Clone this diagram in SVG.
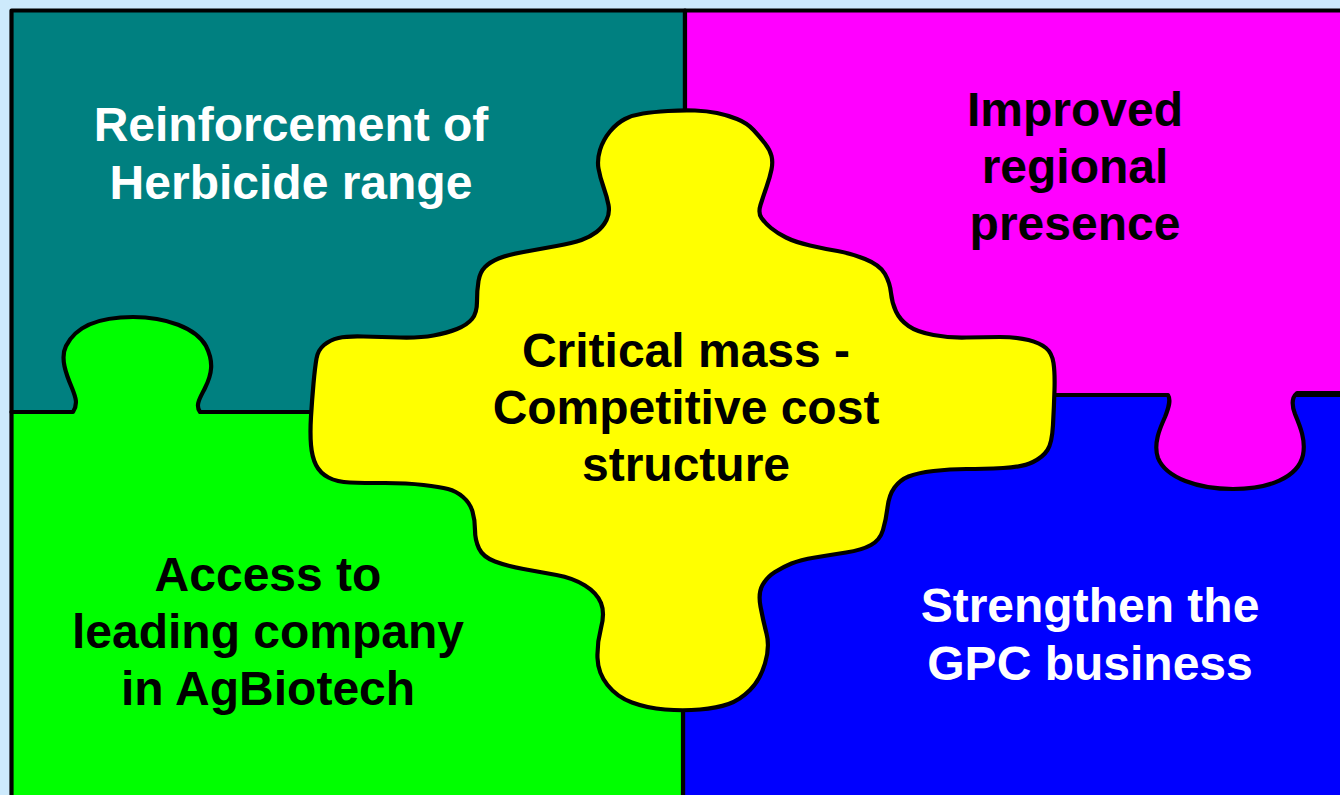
<svg xmlns="http://www.w3.org/2000/svg" width="1340" height="795" viewBox="0 0 1340 795">
  <style>
    .piece { stroke: #000; stroke-width: 4.2; stroke-linejoin: round; }
    .label { font-family: "Liberation Sans", Arial, sans-serif; font-weight: bold; font-size: 48px; text-anchor: middle; }
    .light { fill: #ffffff; }
    .dark { fill: #000000; }
  </style>

  <!-- page background -->
  <rect x="0" y="0" width="1340" height="795" fill="#cdeafc"/>

  <!-- upper-left piece -->
  <g id="herbicide">
    <path class="piece" fill="#008080" d="M11.5,10.5 H685 V412 H11.5 Z"/>
    <text class="label light" x="291" y="141">Reinforcement of</text>
    <text class="label light" x="291" y="199">Herbicide range</text>
  </g>

  <!-- lower-right piece -->
  <g id="gpc">
    <path class="piece" fill="#0000ff" d="M683,395 H1345 V800 H683 Z"/>
    <text class="label light" x="1090" y="622">Strengthen the</text>
    <text class="label light" x="1090" y="680">GPC business</text>
  </g>

  <!-- upper-right piece with knob reaching down -->
  <g id="regional">
    <path class="piece" fill="#ff00ff" d="M685,10.5 H1345 V393 H1297
      C1291,398 1292,406 1295,414 C1300,426 1306,440 1303,455
      C1298,478 1268,489 1233,489 C1198,489 1166,478 1158,458
      C1153,444 1160,428 1165,417 C1169,407 1171,400 1168,395 H685 Z"/>
    <text class="label dark" x="1075" y="126">Improved</text>
    <text class="label dark" x="1075" y="183">regional</text>
    <text class="label dark" x="1075" y="240">presence</text>
  </g>

  <!-- lower-left piece with knob reaching up -->
  <g id="agbiotech">
    <path class="piece" fill="#00ff00" d="M11.5,412 H73
      C78,404 76,398 72,388 C66,374 60,358 66,346
      C76,326 100,317 133,317 C166,317 196,328 206,346
      C214,362 212,374 205,388 C200,398 195,405 200,412
      H683 V800 H11.5 Z"/>
    <text class="label dark" x="268" y="591">Access to</text>
    <text class="label dark" x="268" y="648">leading company</text>
    <text class="label dark" x="268" y="705">in AgBiotech</text>
  </g>

  <!-- central cross-shaped piece -->
  <g id="critical-mass">
    <path class="piece" fill="#ffff00" d="M668,111 Q683,110 695,110.5 Q707,111 717,113 Q727,115 737,119 Q747,123 753.5,130 Q760,137 765,143.5 Q770,150 771.5,156 Q773,162 771.5,169.5 Q770,177 766.5,187 Q763,197 760.5,205 Q758,213 761.5,218 Q765,223 771,228 Q777,233 786,237.5 Q795,242 810,245.5 Q825,249 837.5,251 Q850,253 865,259 Q880,265 885,274 Q890,283 891,293 Q892,303 896,311.5 Q900,320 908.5,326 Q917,332 933.5,335 Q950,338 966.5,337.5 Q983,337 1000,337 Q1017,337 1028.5,340 Q1040,343 1046,348 Q1052,353 1053.5,363 Q1055,373 1054.5,390 Q1054,407 1053,425 Q1052,443 1047.5,450 Q1043,457 1033,462 Q1023,467 1003,468 Q983,469 966.5,469 Q950,469 933.5,471 Q917,473 908.5,476.5 Q900,480 894.5,487.5 Q889,495 887.5,507.5 Q886,520 883,530 Q880,540 871,545 Q862,550 846,552.5 Q830,555 815,557.5 Q800,560 791.5,563.5 Q783,567 775,572 Q767,577 762.5,585 Q758,593 760.5,606.5 Q763,620 766.5,633.5 Q770,647 765,663.5 Q760,680 750,690 Q740,700 728.5,704 Q717,708 700,709.5 Q683,711 665,709.5 Q647,708 632,702.5 Q617,697 607.5,685 Q598,673 597.5,658 Q597,643 601,628 Q605,613 601,603 Q597,593 585,585.5 Q573,578 556.5,575 Q540,572 523.5,569 Q507,566 495,561.5 Q483,557 479,548.5 Q475,540 475,530 Q475,520 472.5,511.5 Q470,503 463,497 Q456,491 448,489 Q440,487 423.5,485 Q407,483 385,483 Q363,483 350,482.5 Q337,482 328.5,477.5 Q320,473 316,465 Q312,457 311,445 Q310,433 311,416.5 Q312,400 313.5,383.5 Q315,367 316.5,358.5 Q318,350 324,345 Q330,340 338.5,338 Q347,336 363.5,336.5 Q380,337 400,337.5 Q420,338 433.5,335.5 Q447,333 457,329 Q467,325 472,319 Q477,313 477,301.5 Q477,290 478.5,281 Q480,272 485,267 Q490,262 498.5,258.5 Q507,255 523.5,252 Q540,249 556.5,246 Q573,243 581.5,240 Q590,237 596.5,232 Q603,227 606.5,220 Q610,213 608.5,205 Q607,197 603.5,187 Q600,177 598.5,168.5 Q597,160 600,150 Q603,140 610,131.5 Q617,123 625,119 Q633,115 643,113.5 Q653,112 668,111 Z"/>
    <text class="label dark" x="686" y="367">Critical mass -</text>
    <text class="label dark" x="686" y="424">Competitive cost</text>
    <text class="label dark" x="686" y="481">structure</text>
  </g>

  <!-- no connectors: the pieces simply interlock -->
  <g id="connectors"/>
</svg>
